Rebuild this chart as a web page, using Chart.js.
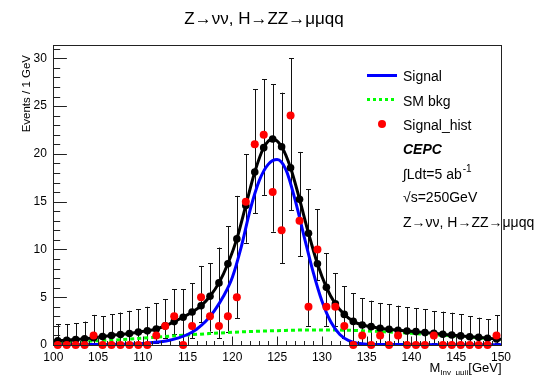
<!DOCTYPE html>
<html><head><meta charset="utf-8">
<script src="https://cdn.jsdelivr.net/npm/chart.js@4/dist/chart.umd.min.js"></script>
<style>html,body{margin:0;padding:0;background:#fff;}</style>
</head><body>
<canvas id="c" width="539" height="375"></canvas>
<script>
// ---- data ----
const binCenters = [100.5,101.5,102.5,103.5,104.5,105.5,106.5,107.5,108.5,109.5,
  110.5,111.5,112.5,113.5,114.5,115.5,116.5,117.5,118.5,119.5,
  120.5,121.5,122.5,123.5,124.5,125.5,126.5,127.5,128.5,129.5,
  130.5,131.5,132.5,133.5,134.5,135.5,136.5,137.5,138.5,139.5,
  140.5,141.5,142.5,143.5,144.5,145.5,146.5,147.5,148.5,149.5];
const signalHist = [0,0,0,0,1,0,0,0,0,0,
  0,1,2,3,0,2,5,3,2,3,
  5,15,21,22,16,12,24,13,4,10,
  4,4,2,0,1,0,1,0,1,0,
  0,0,1,0,0,0,0,0,0,1];
const totalFit = [0.45,0.5,0.57,0.66,0.76,0.88,1.0,1.1,1.2,1.35,
  1.48,1.68,2.0,2.45,2.9,3.45,4.1,5.1,6.5,8.5,
  11.1,14.6,18.1,20.65,21.55,20.75,18.55,15.25,11.7,8.5,
  6.03,4.3,3.2,2.47,2.09,1.92,1.74,1.65,1.55,1.47,
  1.4,1.3,1.22,1.12,1.05,0.95,0.87,0.8,0.7,0.63];
const totalEdges = [0.42, 0.6];   // total curve at 100 and 150
const errLow = [0,0,0,0,0.17,0,0,0,0,0,
  0,0.17,0.7,1.1,0,0.7,2.4,1.4,0.7,1.4,
  2.8,10.7,13.8,15.7,11.85,8.55,14.1,9.3,2.0,6.8,
  2.0,2.0,0.7,0,0.2,0,0.2,0,0.2,0,
  0,0,0.2,0,0,0,0,0,0,0.2];
const errHigh = [2.2,2.2,2.3,2.45,3.15,3.0,3.22,3.4,3.58,3.75,
  4.0,4.36,4.8,5.83,5.83,6.45,8.27,8.55,10.2,12.45,
  15.6,19.95,26.75,27.8,27.3,26.4,30.0,20.2,16.3,14.2,
  9.6,7.5,6.17,5.4,4.9,4.64,4.4,4.26,4.12,3.94,
  3.84,3.73,3.56,3.49,3.38,3.24,3.03,2.86,2.69,3.14];
const signalMass = [100,102,104,106,108,110,111,112,113,114,115,116,117,118,119,
  120,121,122,123,124,125,126,127,128,129,130,131,132,133,134,135,137,140,145,150];
const signalCurve = [0.02,0.03,0.04,0.06,0.09,0.15,0.25,0.35,0.5,0.75,1.1,1.65,2.45,3.6,5.1,
  7.1,10.3,14.2,17.2,18.9,19.4,18.3,15.2,11.4,7.7,4.6,2.4,1.1,0.45,0.18,0.08,0.05,0.04,0.03,0.02];
const bkgMass = [100,102.5,105,107.5,110,112.5,115,117.5,120,122.5,125,127.5,130,132.5,135,137.5,140,142.5,145,147.5,150];
const bkgCurve = [0.3,0.36,0.45,0.56,0.72,0.88,1.05,1.2,1.33,1.43,1.5,1.56,1.58,1.55,1.47,1.35,1.22,1.08,0.93,0.76,0.56];
const xTicks = [100,105,110,115,120,125,130,135,140,145,150];
const yTicks = [0,5,10,15,20,25,30];

const FONT = "'Liberation Sans', Arial, Helvetica, sans-serif";
const pts = (xs, ys) => xs.map((v, i) => ({x: v, y: ys[i]}));
const totalData = [{x: 100, y: totalEdges[0]}, ...pts(binCenters, totalFit), {x: 150, y: totalEdges[1]}];

const rootStyle = {
  id: 'rootStyle',
  beforeDatasetsDraw(chart) {
    const {ctx, scales: {x, y}} = chart;
    ctx.save();
    ctx.strokeStyle = '#111';
    ctx.lineWidth = 1;
    binCenters.forEach((m, i) => {
      const px = Math.round(x.getPixelForValue(m)) + 0.5;
      const y1 = y.getPixelForValue(errLow[i]);
      const y2 = y.getPixelForValue(errHigh[i]);
      ctx.beginPath();
      ctx.moveTo(px, y1); ctx.lineTo(px, y2);
      ctx.moveTo(px - 2.5, Math.round(y2) + 0.5); ctx.lineTo(px + 2.5, Math.round(y2) + 0.5);
      if (errLow[i] > 0) { ctx.moveTo(px - 2.5, Math.round(y1) + 0.5); ctx.lineTo(px + 2.5, Math.round(y1) + 0.5); }
      ctx.stroke();
    });
    ctx.restore();
  },
  afterDraw(chart) {
    const {ctx, chartArea: a, scales: {x, y}} = chart;
    ctx.save();
    // frame
    ctx.strokeStyle = '#222';
    ctx.lineWidth = 1;
    const L = Math.round(a.left) + 0.5, R = Math.round(a.right) + 0.5, T = Math.round(a.top) + 0.5, B = Math.round(a.bottom) + 0.5;
    ctx.strokeRect(L, T, R - L, B - T);
    // ticks (inside)
    ctx.beginPath();
    for (let v = 0; v <= 31; v++) {
      const py = Math.round(y.getPixelForValue(v)) + 0.5;
      const len = v % 5 === 0 ? 13.4 : 6.7;
      ctx.moveTo(L, py); ctx.lineTo(L + len, py);
    }
    for (let m = 100; m <= 150; m++) {
      const px = Math.round(x.getPixelForValue(m)) + 0.5;
      const len = m % 5 === 0 ? 9 : 4.5;
      ctx.moveTo(px, B); ctx.lineTo(px, B - len);
    }
    ctx.stroke();

    // legend
    ctx.lineWidth = 3;
    ctx.strokeStyle = '#0000ff';
    ctx.beginPath(); ctx.moveTo(367, 75.5); ctx.lineTo(397, 75.5); ctx.stroke();
    ctx.strokeStyle = '#00ff00';
    ctx.setLineDash([3, 3]);
    ctx.beginPath(); ctx.moveTo(367, 99.5); ctx.lineTo(397, 99.5); ctx.stroke();
    ctx.setLineDash([]);
    ctx.fillStyle = '#ff0000';
    ctx.beginPath(); ctx.arc(382, 124, 4, 0, Math.PI * 2); ctx.fill();

    ctx.fillStyle = '#000';
    ctx.textAlign = 'left';
    ctx.textBaseline = 'alphabetic';
    ctx.font = `14px ${FONT}`;
    ctx.fillText('Signal', 403, 81);
    ctx.fillText('SM bkg', 403, 105.5);
    ctx.fillText('Signal_hist', 403, 130);
    ctx.font = `italic bold 14px ${FONT}`;
    ctx.fillText('CEPC', 403, 153.5);
    ctx.font = `14px ${FONT}`;
    const t1 = '\u222BLdt=5 ab';
    ctx.fillText(t1, 403, 178.5);
    const w1 = ctx.measureText(t1).width;
    ctx.font = `10px ${FONT}`;
    ctx.fillText('-1', 403 + w1 + 1, 172);
    ctx.font = `14px ${FONT}`;
    ctx.fillText('\u221As=250GeV', 403, 202);
    ctx.fillText('Z\u2192\u03BD\u03BD, H\u2192ZZ\u2192\u03BC\u03BCqq', 403, 226.5);

    // x-axis title with subscript
    ctx.font = `13px ${FONT}`;
    const wM = ctx.measureText('M').width;
    const wG = ctx.measureText('[GeV]').width;
    ctx.font = `8px ${FONT}`;
    const sub = 'Inv_\u03BC\u03BCjj';
    const wS = ctx.measureText(sub).width;
    let xs = 501.5 - wG - wS - wM;
    ctx.font = `13px ${FONT}`;
    ctx.fillText('M', xs, 372);
    ctx.font = `8px ${FONT}`;
    ctx.fillText(sub, xs + wM, 374.5);
    ctx.font = `13px ${FONT}`;
    ctx.fillText('[GeV]', xs + wM + wS, 372);

    // y-axis title
    ctx.translate(29.5, 55);
    ctx.rotate(-Math.PI / 2);
    ctx.textAlign = 'right';
    ctx.font = `11.5px ${FONT}`;
    ctx.fillText('Events / 1 GeV', 0, 0);
    ctx.restore();
  }
};

new Chart(document.getElementById('c'), {
  type: 'scatter',
  data: {
    datasets: [
      { label: 'Signal_hist', data: pts(binCenters, signalHist), showLine: false,
        pointRadius: 4, pointHoverRadius: 4, backgroundColor: '#ff0000', borderWidth: 0, clip: false },
      { label: 'Total', data: totalData, showLine: true, borderColor: '#000', borderWidth: 3,
        cubicInterpolationMode: 'monotone',
        pointRadius: c => (c.dataIndex === 0 || c.dataIndex === totalData.length - 1) ? 0 : 3.8,
        backgroundColor: '#000', pointBorderWidth: 0 },
      { label: 'Signal', data: pts(signalMass, signalCurve), showLine: true, borderColor: '#0000ff',
        borderWidth: 3, cubicInterpolationMode: 'monotone', pointRadius: 0 },
      { label: 'SM bkg', data: pts(bkgMass, bkgCurve), showLine: true, borderColor: '#00ff00',
        borderWidth: 3, borderDash: [4, 3], cubicInterpolationMode: 'monotone', pointRadius: 0 }
    ]
  },
  options: {
    responsive: false,
    animation: false,
    devicePixelRatio: 1,
    layout: { padding: { left: 27, right: 38, top: 0, bottom: 0 } },
    plugins: {
      legend: { display: false },
      tooltip: { enabled: false },
      title: { display: true, text: 'Z\u2192\u03BD\u03BD, H\u2192ZZ\u2192\u03BC\u03BCqq', color: '#000',
        font: { family: FONT, size: 17, weight: 'normal', lineHeight: 1.2 },
        padding: { top: 9, bottom: 15.3 } }
    },
    scales: {
      x: { type: 'linear', min: 100, max: 150,
        grid: { display: false, drawTicks: false }, border: { display: false },
        afterBuildTicks: s => { s.ticks = xTicks.map(v => ({ value: v })); },
        ticks: { color: '#000', font: { family: FONT, size: 12 }, padding: 5, maxRotation: 0, autoSkip: false },
        afterFit: s => { s.height = 30; } },
      y: { type: 'linear', min: 0, max: 31.42,
        grid: { display: false, drawTicks: false }, border: { display: false },
        afterBuildTicks: s => { s.ticks = yTicks.map(v => ({ value: v })); },
        ticks: { color: '#000', font: { family: FONT, size: 12 }, padding: 6.5 },
        afterFit: s => { s.width = 26.3; } }
    }
  },
  plugins: [rootStyle]
});
</script>
</body></html>
